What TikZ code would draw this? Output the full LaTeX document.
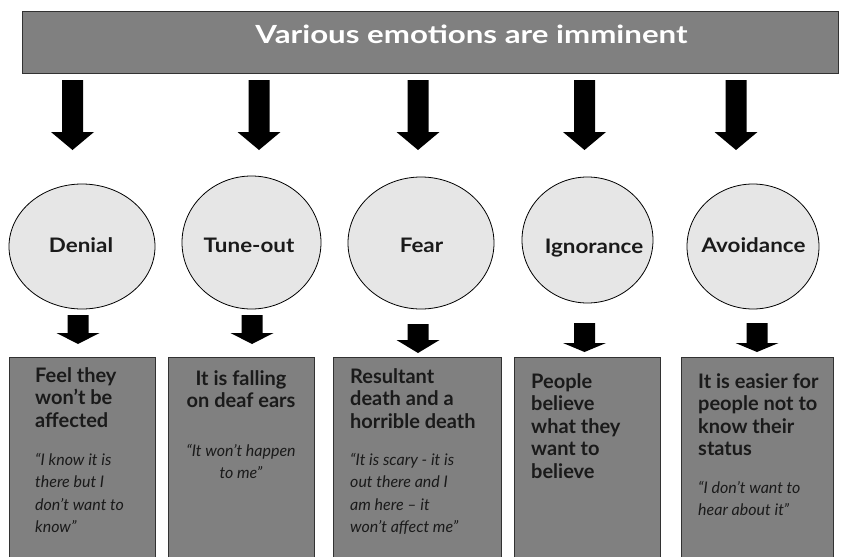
\documentclass[tikz,border=0pt]{standalone}
\usepackage{fontspec}
\setmainfont{Lato}
\newfontfamily\titlefam[FakeStretch=1.25]{Lato}
\newfontfamily\labelfam[FakeStretch=1.12]{Lato}
\usetikzlibrary{shapes.geometric}
\definecolor{bannergray}{RGB}{128,128,128}
\definecolor{boxgray}{RGB}{128,128,128}
\definecolor{ellgray}{RGB}{230,230,230}
\definecolor{ink}{RGB}{26,26,26}
\definecolor{edge}{RGB}{50,50,50}
\tikzset{
  bannerbox/.style={draw=edge, line width=1pt, fill=bannergray, inner sep=0pt, anchor=north west,
    minimum width=816pt, minimum height=62pt},
  titletext/.style={font=\titlefam\bfseries\fontsize{25}{30}\selectfont, text=white, inner sep=0pt, anchor=base},
  emo/.style={ellipse, draw=black, line width=0.8pt, fill=ellgray, inner sep=0pt},
  emotext/.style={font=\labelfam\bfseries\fontsize{20}{24}\selectfont, text=ink, inner sep=0pt, anchor=base},
  infobox/.style={draw=edge, line width=1pt, fill=boxgray, inner sep=0pt, anchor=north west, minimum height=213pt},
  headtext/.style={font=\bfseries\fontsize{20}{22.5}\selectfont, text=ink, inner sep=0pt, align=left, anchor=base west},
  quotetext/.style={font=\itshape\fontsize{16}{22.5}\selectfont, text=ink, inner sep=0pt, align=left, anchor=base west},
  pics/barrow/.style n args={2}{code={
    \fill[black] (-10.5,0) -- (10.5,0) -- (10.5,#1) -- (21.5,#1) -- (0,#2) -- (-21.5,#1) -- (-10.5,#1) -- cycle;}}
}
\begin{document}
\begin{tikzpicture}[x=1pt,y=-1pt]
\useasboundingbox (0,0) rectangle (841,557);
% banner
\node[bannerbox] (banner) at (22,11) {};
\node[titletext] (title) at (471.5,43) {Various emotions are imminent};
% top arrows
\coordinate (ta1) at (72.5,80);
\coordinate (ta2) at (259,80);
\coordinate (ta3) at (418,80);
\coordinate (ta4) at (584.5,80);
\coordinate (ta5) at (736,80);
\foreach \c in {ta1,ta2,ta3,ta4,ta5} \pic at (\c) {barrow={52}{70}};
% ellipses
\node[emo, minimum width=146pt, minimum height=125pt] (e1) at (82,246.5) {};
\node[emo, minimum width=139pt, minimum height=133pt] (e2) at (251.5,242.5) {};
\node[emo, minimum width=146pt, minimum height=132pt] (e3) at (421,243) {};
\node[emo, minimum width=131pt, minimum height=126pt] (e4) at (587.5,240) {};
\node[emo, minimum width=132pt, minimum height=125pt] (e5) at (753,246.5) {};
\node[emotext] (l1) at (81,252) {Denial};
\node[emotext] (l2) at (249,252) {Tune-out};
\node[emotext] (l3) at (421.5,252) {Fear};
\node[emotext] (l4) at (594,253) {Ignorance};
\node[emotext] (l5) at (753.5,252) {Avoidance};
% lower arrows
\coordinate (ba1) at (78,315);
\coordinate (ba2) at (252,315);
\coordinate (ba3) at (418,324);
\coordinate (ba4) at (584.5,323);
\coordinate (ba5) at (757,323);
\pic at (ba1) {barrow={18}{29}};
\pic at (ba2) {barrow={18}{29}};
\pic at (ba3) {barrow={16}{29}};
\pic at (ba4) {barrow={20}{29}};
\pic at (ba5) {barrow={20}{29}};
% boxes
\node[infobox, minimum width=146pt] (b1) at (9,357) {};
\node[infobox, minimum width=146pt] (b2) at (168,357) {};
\node[infobox, minimum width=168pt] (b3) at (333,357) {};
\node[infobox, minimum width=146pt] (b4) at (514,357) {};
\node[infobox, minimum width=152pt] (b5) at (681,357) {};
% box texts (anchor = baseline of the last line)
\node[headtext] (h1) at (35,427) {Feel they\\won’t be\\affected};
\node[quotetext] (q1) at (35,532.5) {“I know it is\\there but I\\don’t want to\\know”};
\node[headtext, align=center, anchor=base] (h2) at (241,407.5) {It is falling\\on deaf ears};
\node[quotetext, align=center, anchor=base] (q2) at (241,478.5) {“It won’t happen\\to me”};
\node[headtext] (h3) at (350,428) {Resultant\\death and a\\horrible death};
\node[quotetext] (q3) at (350,532.5) {“It is scary - it is\\out there and I\\am here – it\\won’t affect me”};
\node[headtext] (h4) at (531,478) {People\\believe\\what they\\want to\\believe};
\node[headtext] (h5) at (698,455.5) {It is easier for\\people not to\\know their\\status};
\node[quotetext] (q5) at (698,515.5) {“I don’t want to\\hear about it”};
\end{tikzpicture}
\end{document}
